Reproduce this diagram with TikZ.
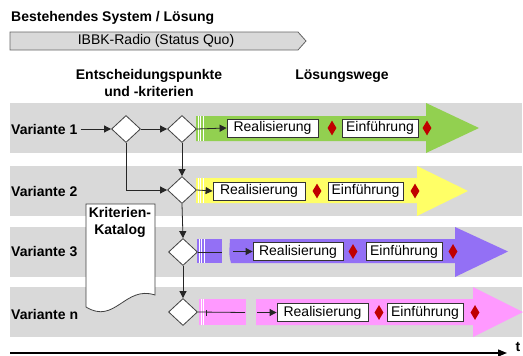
\documentclass[tikz,border=0pt]{standalone}
\usepackage{fontspec}
\setmainfont{Liberation Sans}
\usetikzlibrary{shapes.geometric,arrows.meta}
\definecolor{band}{HTML}{D9D9D9}
\definecolor{cgreen}{HTML}{92D050}
\definecolor{cyellow}{HTML}{FFFF66}
\definecolor{cpurple}{HTML}{9370F5}
\definecolor{cpink}{HTML}{FF99FF}
\definecolor{cred}{HTML}{C00000}
\definecolor{sqfill}{HTML}{D9D9D9}
\tikzset{
  txt/.style={font=\fontsize{14}{16}\selectfont, inner sep=0pt},
  btxt/.style={font=\fontsize{14}{16}\selectfont\bfseries, inner sep=0pt},
  dec/.style={diamond, draw=black!75, fill=white, line width=0.8pt, minimum width=29pt, minimum height=27pt, inner sep=0pt, aspect=1.07},
  rdia/.style={diamond, fill=cred, minimum width=9pt, minimum height=15pt, inner sep=0pt, aspect=0.6},
  wbox/.style={draw=black!80, fill=white, line width=0.8pt, font=\fontsize{14}{16}\selectfont, minimum height=18pt, inner sep=0pt},
  conn/.style={draw=black!85, line width=0.8pt},
  arr/.style={conn, -{Triangle[length=7pt,width=7pt]}},
  stripe/.style={white, line width=0.7pt}
}
\begin{document}
\begin{tikzpicture}[x=1pt,y=-1pt]
\useasboundingbox (0,0) rectangle (523,356);
% title and status quo
\node[btxt, anchor=west] (title) at (11,18) {Bestehendes System / Lösung};
\draw[fill=sqfill, draw=black!60, line width=0.8pt] (10,32) -- (298,32) -- (306,41) -- (298,50) -- (10,50) -- cycle;
\node[txt] (sq) at (156,41) {IBBK-Radio (Status Quo)};
\node[btxt, align=center] (ent) at (149,83) {Entscheidungspunkte\\[1pt]und -kriterien};
\node[btxt] (lw) at (342,76) {Lösungswege};
% bands
\fill[band] (10,103) rectangle (522,153);
\fill[band] (10,166) rectangle (522,216);
\fill[band] (10,227) rectangle (522,277);
\fill[band] (10,287) rectangle (522,337);
% green arrow
\fill[cgreen] (196,116) -- (426,116) -- (426,103) -- (479,128) -- (426,153) -- (426,141) -- (196,141) -- cycle;
\foreach \s in {198,200.5,203} \draw[stripe] (\s,116) -- (\s,141);
% yellow arrow
\fill[cyellow] (196,178) -- (417,178) -- (417,166) -- (468,191) -- (417,216) -- (417,203) -- (196,203) -- cycle;
\foreach \s in {198,200.5,203} \draw[stripe] (\s,178) -- (\s,203);
% purple arrow
\fill[cpurple] (197,239) rectangle (222,263);
\fill[cpurple] (230,239) -- (455,239) -- (455,227) -- (508,251.5) -- (455,277) -- (455,263) -- (231,263) .. controls (229,255) .. (230,239) -- cycle;
\foreach \s in {199,201.5,204} \draw[stripe] (\s,239) -- (\s,263);
% pink arrow
\fill[cpink] (199,299) rectangle (246,325);
\fill[cpink] (256,299) -- (473,299) -- (473,287) -- (523,312) -- (473,337) -- (473,325) -- (256,325) -- cycle;
\foreach \s in {201,203.5} \draw[stripe] (\s,299) -- (\s,325);
% variant labels
\node[btxt, anchor=west] (v1) at (11,129) {Variante 1};
\node[btxt, anchor=west] (v2) at (11,191) {Variante 2};
\node[btxt, anchor=west] (v3) at (11,252) {Variante 3};
\node[btxt, anchor=west] (vn) at (11,314) {Variante n};
% decision diamonds
\node[dec] (d1) at (126,129) {};
\node[dec] (d2) at (182,129) {};
\node[dec] (d3) at (182,190) {};
\node[dec] (d4) at (183,252) {};
\node[dec] (d5) at (183,312) {};
% catalogue
\draw[fill=white, draw=black!75, line width=0.8pt] (86,204) -- (155,204) -- (155,295) .. controls (125,285) and (115,325) .. (86,307) -- cycle;
\node[btxt, align=center] (kat) at (120,222) {Kriterien-\\[1pt]Katalog};
% boxes row 1
\node[wbox, minimum width=91pt] (r1) at (272.5,128) {Realisierung};
\node[rdia] (m1a) at (332,128) {};
\node[wbox, minimum width=76pt] (e1) at (380,128) {Einführung};
\node[rdia] (m1b) at (427,128) {};
% row 2
\node[wbox, minimum width=92pt] (r2) at (259,191) {Realisierung};
\node[rdia] (m2a) at (317,191) {};
\node[wbox, minimum width=75pt] (e2) at (365.5,191) {Einführung};
\node[rdia] (m2b) at (415,191) {};
% row 3
\node[wbox, minimum width=90pt] (r3) at (298,251.5) {Realisierung};
\node[rdia] (m3a) at (353,251.5) {};
\node[wbox, minimum width=76pt] (e3) at (404,251.5) {Einführung};
\node[rdia] (m3b) at (453,251.5) {};
% row 4
\node[wbox, minimum width=91pt] (r4) at (322.5,312.5) {Realisierung};
\node[rdia] (m4a) at (379,312.5) {};
\node[wbox, minimum width=76pt] (e4) at (425,312.5) {Einführung};
\node[rdia] (m4b) at (475,312.5) {};
% connectors
\draw[arr] ([xshift=3pt]v1.east) -- (d1.west);
\draw[arr] (d1.east) -- (d2.west);
\draw[arr] (d1.south) |- (d3.west);
\draw[arr] (d2.south) -- (d3.north);
\draw[arr] (d3.south) -- (d4.north);
\draw[arr] (d4.south) -- (d5.north);
\draw[arr] (d2.east) -- (r1.west);
\draw[arr] (d3.east) -- (r2.west);
\coordinate (p3a) at (222,252);
\coordinate (p3b) at (233,251.5);
\draw[conn] (d4.east) -- (p3a);
\draw[arr] (p3b) -- (r3.west);
\coordinate (p4a) at (245,312.5);
\coordinate (p4b) at (257,312.5);
\coordinate (tk) at (206,312.5);
\draw[conn] (d5.east) -- (p4a);
\draw[conn] ([yshift=-3pt]tk) -- ([yshift=3pt]tk);
\draw[arr] (p4b) -- (r4.west);
% time axis
\coordinate (t0) at (10,353);
\coordinate (t1) at (507,353);
\draw[black, line width=1.3pt, -{Triangle[length=9pt,width=7pt]}] (t0) -- (t1);
\node[btxt] (tt) at (518,347) {t};
\end{tikzpicture}
\end{document}
